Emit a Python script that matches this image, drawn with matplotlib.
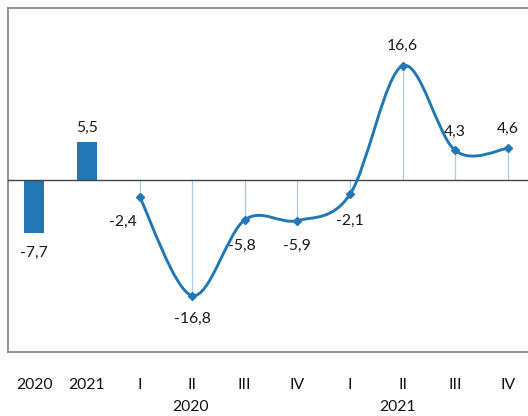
import numpy as np
import matplotlib.pyplot as plt
from matplotlib.path import Path
from matplotlib.patches import PathPatch

plt.rcParams['font.family'] = ['Lato', 'DejaVu Sans']

# --- data ---
categories = ["2020", "2021", "I", "II", "III", "IV", "I", "II", "III", "IV"]
annual = [-7.7, 5.5]
quarterly = [-2.4, -16.8, -5.8, -5.9, -2.1, 16.6, 4.3, 4.6]
year_groups = ["2020", "2021"]

# label offsets in pixels (dx, dy) for each quarterly point
q_offsets = [(-17, -25), (0, -23), (-3, -26), (0, -25),
             (0, -26), (0, 20), (0, 19), (0, 19)]

blue = "#2277b4"
light_blue = "#a9cbe6"
fs = 11.3


def fmt(v):
    return f"{v:.1f}".replace(".", ",")


def smooth_path(xs, ys):
    # Catmull-Rom style cubic Bezier segments through the points
    pts = np.column_stack([xs, ys]).astype(float)
    n = len(pts)
    verts = [pts[0]]
    codes = [Path.MOVETO]
    for i in range(n - 1):
        p0 = pts[i - 1] if i > 0 else pts[i]
        p1 = pts[i]
        p2 = pts[i + 1]
        p3 = pts[i + 2] if i + 2 < n else pts[i + 1]
        c1 = p1 + (p2 - p0) / 6.0
        c2 = p2 - (p3 - p1) / 6.0
        verts += [c1, c2, p2]
        codes += [Path.CURVE4] * 3
    return Path(verts, codes)


fig = plt.figure(figsize=(5.28, 4.16), dpi=100)
ax = fig.add_axes([8 / 528, 1 - 352 / 416, 526 / 528, 344 / 416])

x = np.arange(len(categories))
xa = x[:len(annual)]
xq = x[len(annual):]

# annual bars
ax.bar(xa, annual, width=0.38, color=blue, zorder=3)
for xi, v in zip(xa, annual):
    dy = 14 if v > 0 else -20
    ax.annotate(fmt(v), (xi, v), xytext=(0, dy), textcoords="offset pixels",
                ha="center", va="center", fontsize=fs, color="#1a1a1a")

# drop lines from quarterly points to zero
ax.vlines(xq, 0, quarterly, color=light_blue, lw=0.9, zorder=2)

# smoothed quarterly line
ax.add_patch(PathPatch(smooth_path(xq, quarterly), facecolor="none",
                       edgecolor=blue, lw=2.1, zorder=4))
ax.plot(xq, quarterly, linestyle="none", marker="D", markersize=4.5,
        color=blue, zorder=5)
for xi, v, (dx, dy) in zip(xq, quarterly, q_offsets):
    ax.annotate(fmt(v), (xi, v), xytext=(dx, dy), textcoords="offset pixels",
                ha="center", va="center", fontsize=fs, color="#1a1a1a")

ax.axhline(0, color="#444444", lw=1.0, zorder=3)

ax.set_xlim(-0.5, len(categories) - 0.5)
ax.set_ylim(-25, 25)
ax.set_yticks([])
ax.set_xticks(x)
ax.set_xticklabels(categories, fontsize=fs, color="#111111")
ax.tick_params(axis="x", length=0, pad=19)

# year group labels under the quarters
for gx, name in zip([2.96, 6.91], year_groups):
    ax.text(gx, -0.16, name, transform=ax.get_xaxis_transform(),
            ha="center", va="center", fontsize=fs, color="#111111")

for side in ["left", "top", "bottom"]:
    ax.spines[side].set_color("#808080")
    ax.spines[side].set_linewidth(1.2)
ax.spines["right"].set_visible(False)

fig.savefig("out.png", dpi=100)
